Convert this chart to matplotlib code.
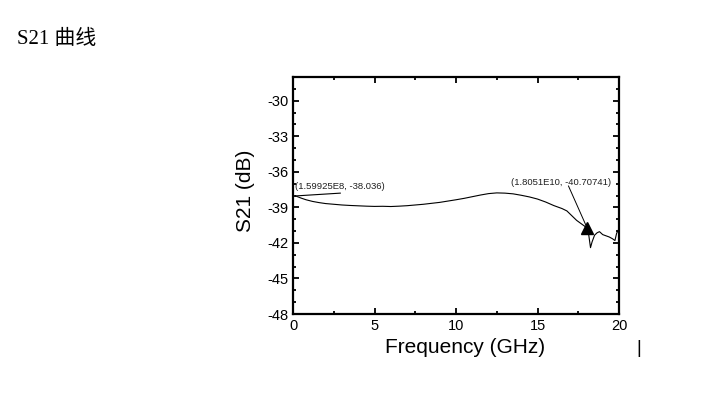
import numpy as np
import matplotlib.pyplot as plt
from matplotlib.ticker import MultipleLocator

freq = [0.16, 0.5, 0.8, 1.2, 1.6, 2.0, 2.5, 3.0, 3.5, 4.0, 4.5, 5.0, 5.5, 6.0, 6.5,
        7.0, 7.5, 8.0, 8.5, 9.0, 9.5, 10.0, 10.5, 11.0, 11.5, 12.0, 12.5, 13.0,
        13.5, 14.0, 14.5, 15.0, 15.5, 16.0, 16.5, 16.8, 17.1, 17.4, 17.7, 17.9,
        18.05, 18.15, 18.25, 18.35, 18.5, 18.65, 18.8, 19.0, 19.2, 19.4, 19.6,
        19.75, 19.85, 20.0]
s21 = [-38.04, -38.22, -38.36, -38.5, -38.6, -38.68, -38.74, -38.8, -38.84, -38.87,
       -38.9, -38.92, -38.91, -38.93, -38.9, -38.86, -38.8, -38.74, -38.66, -38.58,
       -38.47, -38.36, -38.24, -38.1, -37.96, -37.84, -37.78, -37.8, -37.86,
       -37.98, -38.12, -38.3, -38.55, -38.85, -39.1, -39.3, -39.7, -40.1, -40.4,
       -40.6, -40.71, -41.4, -42.4, -41.9, -41.35, -41.15, -41.05, -41.3, -41.4,
       -41.5, -41.65, -41.8, -41.2, -40.8]

mark1 = (0.16, -38.036)
mark2 = (18.05, -40.70741)

plt.rcParams['font.family'] = ['Liberation Sans', 'DejaVu Sans']
plt.rcParams['axes.unicode_minus'] = False

fig = plt.figure(figsize=(7.02, 3.94), dpi=100)
ax = fig.add_axes([0.4174, 0.203, 0.4644, 0.6016])

ax.plot(freq, s21, color='black', lw=0.8)
ax.plot(mark2[0], mark2[1], marker='^', color='black', ms=8)

# marker labels
ax.annotate('(1.59925E8, -38.036)', xy=mark1, xytext=(0.15, -37.25),
            fontsize=6.8, color='#202020', va='center', ha='left')
ax.plot([mark1[0], 2.9], [mark1[1], -37.8], color='black', lw=0.8)
ax.annotate('(1.8051E10, -40.70741)', xy=mark2, xytext=(13.4, -36.9),
            fontsize=6.8, color='#202020', va='center', ha='left')
ax.plot([16.9, 17.95], [-37.2, -40.45], color='black', lw=0.7)

ax.set_xlim(0, 20)
ax.set_ylim(-48, -28)
ax.xaxis.set_major_locator(MultipleLocator(5))
ax.xaxis.set_minor_locator(MultipleLocator(2.5))
ax.yaxis.set_major_locator(MultipleLocator(3))
ax.yaxis.set_minor_locator(MultipleLocator(1))
ax.set_yticks(np.arange(-48, -29, 3))
ax.tick_params(which='both', direction='in', top=True, right=True, width=1.3, labelsize=10.5)
ax.tick_params(which='major', length=4)
ax.tick_params(which='minor', length=2.5)
for sp in ax.spines.values():
    sp.set_linewidth(1.6)

ax.set_xlabel('Frequency (GHz)', fontsize=15)
ax.set_ylabel('S21 (dB)', fontsize=15)
ax.xaxis.set_label_coords(0.527, -0.1)
ax.yaxis.set_label_coords(-0.116, 0.519)

fig.text(0.024, 0.9, 'S21 曲线', fontsize=15,
         family=['Liberation Serif', 'Noto Sans CJK SC'], va='center')
fig.text(0.91, 0.115, '|', fontsize=13, va='center', ha='center')

fig.savefig('out.png', dpi=100)
